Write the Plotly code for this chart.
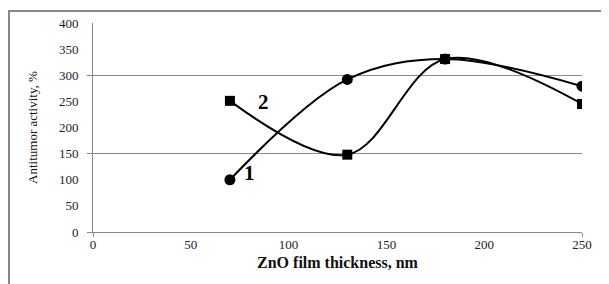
import plotly.graph_objects as go

thickness = [70, 130, 180, 250]
series1 = [100, 292, 331, 279]
series2 = [251, 148, 331, 245]
y_ticks = [0, 50, 100, 150, 200, 250, 300, 350, 400]
x_ticks = [0, 50, 100, 150, 200, 250]
series_labels = ["1", "2"]

FONT = "Liberation Serif, Times New Roman, serif"

fig = go.Figure()
fig.add_trace(go.Scatter(
    x=thickness, y=series1, mode="lines+markers",
    line=dict(color="black", width=2, shape="spline", smoothing=1),
    marker=dict(symbol="circle", size=11, color="black"),
    showlegend=False))
fig.add_trace(go.Scatter(
    x=thickness, y=series2, mode="lines+markers",
    line=dict(color="black", width=2, shape="spline", smoothing=1),
    marker=dict(symbol="square", size=10, color="black"),
    showlegend=False))

label_pos = [(80, 113), (87, 249)]
for txt, (lx, ly) in zip(series_labels, label_pos):
    fig.add_annotation(x=lx, y=ly, text="<b>%s</b>" % txt, showarrow=False,
                       font=dict(family=FONT, size=21, color="black"))

# page body has an 8px margin, compensated in the figure margins
fig.update_layout(
    width=609, height=284,
    margin=dict(l=85, r=35, t=15, b=60),
    paper_bgcolor="white", plot_bgcolor="white",
    font=dict(family=FONT, color="#333"),
    xaxis=dict(range=[0, 250], tickvals=x_ticks, showgrid=False, zeroline=False,
               showline=True, linecolor="#888", linewidth=1, ticks="",
               automargin=False,
               tickfont=dict(family=FONT, size=13, color="#222"),
               title=dict(text="<b>ZnO film thickness, nm</b>", standoff=6,
                          font=dict(family=FONT, size=16, color="#111"))),
    yaxis=dict(range=[0, 400], tickvals=y_ticks, showgrid=False, zeroline=False,
               showline=True, linecolor="#888", linewidth=1, ticks="",
               automargin=False, ticklabelstandoff=11,
               tickfont=dict(family=FONT, size=13, color="#222"),
               title=dict(text="Antitumor activity, %", standoff=18,
                          font=dict(family=FONT, size=13, color="#111"))),
    yaxis2=dict(range=[0, 400], tickvals=[0, 150, 300], overlaying="y", side="left",
                showgrid=True, gridcolor="#8a8a8a", gridwidth=1, zeroline=False,
                showticklabels=False, ticks="outside", ticklen=5, tickcolor="#888",
                showline=False, automargin=False),
    xaxis2=dict(range=[0, 250], tickvals=[0, 250], overlaying="x", anchor="y",
                side="bottom", showgrid=False, zeroline=False, showticklabels=False,
                ticks="outside", ticklen=4, tickcolor="#888", showline=False,
                automargin=False),
)
# invisible trace to activate overlay axes
fig.add_trace(go.Scatter(x=[None], y=[None], xaxis="x2", yaxis="y2", showlegend=False))

fig.add_shape(type="rect", xref="paper", yref="paper",
              x0=-84 / 489, x1=1.2, y0=-0.5, y1=1 + 12 / 209,
              line=dict(color="#888", width=2), layer="below")

fig.write_html("out.html")
